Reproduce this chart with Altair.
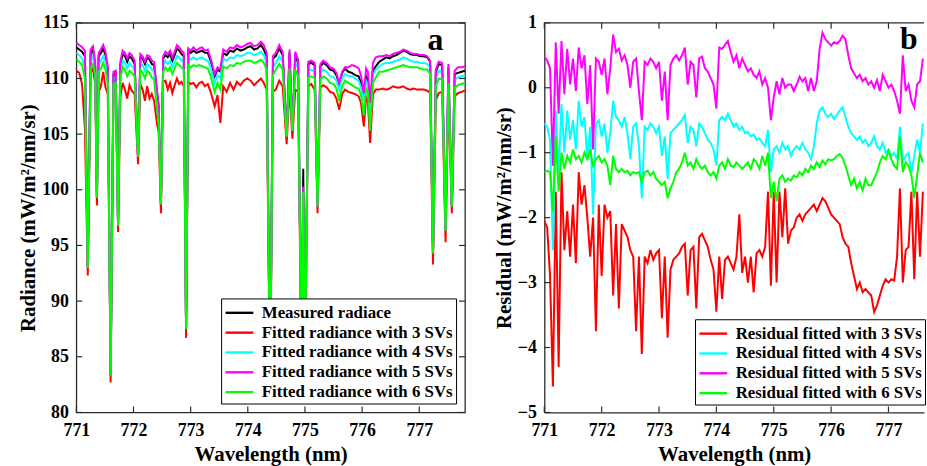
import altair as alt
import pandas as pd

# ---------------- panel a data (radiance) ----------------
wl_a = [771.00, 771.05, 771.10, 771.15, 771.20, 771.25, 771.29, 771.33, 771.36, 771.39,
        771.43, 771.47, 771.51, 771.55, 771.60, 771.65, 771.69, 771.73, 771.77, 771.81,
        771.85, 771.89, 771.93, 771.97, 772.02, 772.08, 772.12, 772.16, 772.20, 772.24,
        772.28, 772.32, 772.36, 772.41, 772.44, 772.48, 772.52, 772.56, 772.60, 772.64,
        772.68, 772.72, 772.76, 772.80, 772.84, 772.88, 772.92, 772.96, 773.00, 773.05,
        773.10, 773.15, 773.20, 773.25, 773.30, 773.35, 773.42, 773.47, 773.52, 773.57,
        773.63, 773.69, 773.75, 773.81, 773.87, 773.93, 773.99, 774.05, 774.11, 774.17,
        774.23, 774.28, 774.33, 774.39, 774.44, 774.49, 774.55, 774.61, 774.68, 774.73,
        774.78, 774.83, 774.88, 774.94, 774.97, 775.00, 775.06, 775.11, 775.17, 775.22,
        775.27, 775.32, 775.38, 775.44, 775.50, 775.55, 775.60, 775.65, 775.70, 775.76,
        775.82, 775.88, 775.94, 775.98, 776.03, 776.07, 776.10, 776.14, 776.19, 776.24,
        776.30, 776.36, 776.42, 776.48, 776.54, 776.60, 776.66, 776.72, 776.78, 776.84,
        776.90, 776.96, 777.02, 777.08, 777.14, 777.19, 777.24, 777.29, 777.34, 777.40,
        777.46, 777.51, 777.57, 777.62, 777.68, 777.74, 777.80]

meas = [112.8, 112.6, 112.4, 112.0, 93.0, 112.3, 112.6, 111.2, 99.3, 112.0,
        112.3, 112.7, 112.1, 110.8, 83.3, 110.4, 110.5, 96.8, 111.2, 112.2,
        112.0, 111.5, 112.0, 111.8, 111.3, 103.0, 111.9, 111.8, 111.3, 111.9,
        111.7, 111.3, 111.2, 108.8, 107.4, 98.7, 111.8, 112.1, 111.9, 112.2,
        111.6, 112.1, 112.7, 112.5, 112.2, 112.0, 87.5, 112.5, 112.3, 112.5,
        112.3, 112.4, 112.5, 112.3, 112.3, 111.6, 110.2, 110.8, 110.6, 112.3,
        112.1, 112.5, 112.4, 112.7, 112.5, 112.6, 112.8, 112.9, 112.6, 112.7,
        113.0, 112.6, 112.0, 82.0, 111.8, 112.0, 112.7, 112.1, 104.8, 112.3,
        105.3, 112.1, 111.4, 84.0, 101.9, 84.0, 111.3, 111.4, 111.2, 98.5,
        111.1, 111.4, 111.2, 110.8, 110.7, 110.3, 109.5, 110.5, 110.9, 110.6,
        110.5, 110.3, 110.2, 109.6, 108.3, 110.2, 109.9, 107.5, 110.7, 111.1,
        111.5, 111.7, 111.9, 111.8, 112.0, 112.1, 112.3, 112.5, 112.4, 112.2,
        112.1, 112.1, 112.0, 112.0, 111.9, 111.5, 94.3, 110.6, 111.3, 111.2,
        96.3, 111.0, 98.5, 110.4, 110.5, 110.6, 110.7]

fit3 = [110.7, 110.5, 109.5, 105.5, 92.3, 110.5, 110.9, 109.5, 98.6, 108.8,
        109.3, 110.6, 109.2, 108.6, 82.7, 109.0, 109.1, 96.2, 108.4, 109.6,
        109.0, 108.2, 109.4, 108.9, 108.6, 102.3, 109.5, 109.0, 108.0, 109.3,
        108.2, 108.6, 108.0, 106.0, 105.2, 97.9, 109.7, 109.8, 109.0, 109.6,
        108.7, 109.4, 110.0, 109.5, 109.7, 109.3, 86.7, 109.7, 109.5, 109.6,
        109.2, 109.6, 109.7, 109.3, 109.5, 108.8, 107.5, 108.5, 106.0, 109.3,
        108.8, 109.6, 109.0, 109.7, 109.4, 109.8, 110.0, 109.8, 109.4, 109.7,
        110.0, 109.6, 109.0, 81.5, 108.8, 109.0, 109.8, 109.3, 104.1, 109.4,
        104.6, 109.0, 108.8, 83.5, 99.5, 83.5, 109.3, 109.5, 109.0, 97.9,
        109.2, 109.4, 109.2, 108.8, 108.7, 108.2, 107.2, 108.6, 109.0, 108.8,
        108.7, 108.6, 108.4, 107.8, 105.7, 108.3, 108.0, 104.2, 108.6, 109.0,
        109.0, 109.1, 109.0, 109.1, 109.3, 109.2, 109.2, 109.3, 109.1, 109.0,
        109.1, 109.0, 109.0, 109.0, 108.9, 108.7, 93.3, 108.0, 108.7, 108.8,
        95.3, 108.6, 97.9, 108.4, 108.7, 108.8, 108.9]

fit4 = [112.3, 112.1, 111.8, 111.0, 93.0, 111.5, 112.0, 110.8, 99.3, 111.2,
        111.6, 112.0, 111.5, 110.3, 83.3, 110.0, 110.1, 96.8, 110.6, 111.6,
        111.4, 110.9, 111.4, 111.1, 110.8, 103.0, 111.4, 111.2, 110.7, 111.3,
        111.1, 110.8, 110.6, 108.2, 107.0, 98.7, 111.2, 111.6, 111.3, 111.6,
        111.0, 111.5, 112.0, 111.9, 111.6, 111.5, 87.5, 111.9, 111.7, 111.9,
        111.7, 111.8, 111.9, 111.7, 111.6, 111.0, 109.6, 110.3, 110.0, 111.8,
        111.6, 111.9, 111.8, 112.1, 112.0, 112.1, 112.3, 112.3, 112.1, 112.2,
        112.4, 112.1, 111.4, 82.0, 111.0, 111.4, 112.0, 111.5, 104.8, 111.6,
        105.3, 111.5, 110.9, 84.0, 100.0, 84.0, 110.7, 110.8, 110.6, 98.5,
        110.5, 110.8, 110.6, 110.2, 110.1, 109.8, 109.0, 110.0, 110.4, 110.2,
        110.2, 110.0, 109.8, 109.2, 108.0, 109.8, 109.5, 107.0, 110.3, 110.8,
        111.1, 111.3, 111.4, 111.4, 111.5, 111.6, 111.7, 111.9, 111.8, 111.6,
        111.5, 111.5, 111.4, 111.4, 111.3, 111.0, 94.3, 110.0, 110.7, 110.6,
        96.3, 110.3, 98.5, 109.9, 110.1, 110.2, 110.3]

fit5 = [113.2, 113.0, 112.8, 112.5, 93.0, 112.6, 112.9, 111.5, 99.3, 112.3,
        112.6, 113.0, 112.4, 111.0, 83.3, 110.6, 110.7, 96.8, 111.5, 112.5,
        112.3, 111.8, 112.3, 112.1, 111.6, 103.0, 112.2, 112.0, 111.5, 112.1,
        112.0, 111.6, 111.5, 109.0, 107.6, 98.7, 112.0, 112.4, 112.2, 112.5,
        111.9, 112.4, 113.0, 112.8, 112.5, 112.3, 87.5, 112.7, 112.5, 112.8,
        112.5, 112.7, 112.8, 112.5, 112.6, 111.8, 110.4, 111.0, 110.8, 112.6,
        112.4, 112.8, 112.7, 113.0, 112.8, 112.9, 113.1, 113.2, 112.9, 113.0,
        113.3, 113.0, 112.3, 82.0, 112.0, 112.3, 113.0, 112.4, 104.8, 112.6,
        105.3, 112.4, 111.7, 84.0, 100.3, 84.0, 111.5, 111.6, 111.4, 98.5,
        111.3, 111.6, 111.4, 111.0, 110.9, 110.5, 109.6, 110.6, 111.0, 111.0,
        111.2, 111.1, 110.9, 110.3, 108.7, 110.9, 110.6, 107.8, 111.4, 111.9,
        112.0, 112.0, 112.1, 112.0, 112.2, 112.3, 112.4, 112.6, 112.5, 112.3,
        112.2, 112.2, 112.1, 112.1, 112.0, 111.6, 94.3, 110.8, 111.5, 111.4,
        96.3, 111.3, 98.5, 110.7, 111.0, 111.0, 111.1]

fit6 = [111.7, 111.5, 111.2, 110.0, 93.0, 110.9, 111.3, 110.3, 99.3, 110.6,
        110.9, 111.4, 110.8, 109.6, 83.3, 109.5, 109.6, 96.8, 110.0, 111.0,
        110.8, 110.2, 110.7, 110.5, 110.2, 103.0, 110.8, 110.5, 110.0, 110.7,
        110.5, 110.1, 109.9, 107.3, 106.0, 98.7, 110.6, 111.0, 110.7, 111.0,
        110.4, 110.9, 111.4, 111.2, 111.0, 110.8, 87.5, 111.2, 111.0, 111.2,
        111.1, 111.2, 111.1, 111.0, 110.9, 110.2, 108.8, 109.6, 109.0, 111.1,
        110.9, 111.2, 111.1, 111.4, 111.3, 111.5, 111.6, 111.6, 111.4, 111.5,
        111.7, 111.4, 110.8, 82.0, 110.3, 110.8, 111.3, 110.8, 104.8, 110.9,
        105.3, 110.8, 110.2, 84.0, 99.8, 84.0, 110.1, 110.2, 110.0, 98.5,
        109.9, 110.2, 110.0, 109.6, 109.5, 109.1, 108.0, 109.3, 109.8, 109.6,
        109.4, 109.2, 109.1, 108.5, 106.7, 109.1, 108.8, 105.3, 109.6, 110.1,
        110.6, 110.6, 110.7, 110.8, 110.9, 111.0, 111.1, 111.2, 111.1, 111.0,
        111.0, 111.0, 110.9, 110.8, 110.8, 110.4, 94.3, 109.3, 110.0, 109.9,
        96.3, 109.6, 98.5, 109.2, 109.4, 109.5, 109.6]

# ---------------- panel b data (residuals, sampled every 0.05 nm from 771.00) ----------------
res3 = [-2.05, -2.15, -2.9, -4.6, -1.6, -4.3, -1.3, -2.5, -1.9, -2.6,
        -1.8, -2.7, -1.3, -1.8, -1.5, -2.0, -2.6, -2.0, -3.75, -1.8,
        -2.9, -1.8, -2.0, -1.9, -3.2, -2.1, -3.4, -2.1, -2.2, -2.3,
        -2.5, -2.6, -3.75, -2.6, -4.1, -2.6, -2.7, -2.5, -2.65, -2.55,
        -2.5, -3.55, -2.6, -3.85, -2.8, -2.65, -2.6, -2.55, -2.45, -2.4,
        -3.2, -2.5, -2.45, -3.4, -2.3, -2.25, -2.35, -2.45, -2.65, -2.8,
        -3.45, -2.6, -3.25, -2.65, -2.6, -2.7, -2.8, -2.6, -1.95, -2.85,
        -2.6, -3.0, -2.6, -3.15, -2.55, -2.5, -2.6, -2.45, -1.6, -3.05,
        -1.6, -3.0, -1.6, -2.3, -1.55, -2.4, -2.2, -2.15, -2.0, -1.95,
        -2.05, -1.95, -1.9, -1.85, -1.8, -1.9, -1.8, -1.7, -1.75, -1.85,
        -1.95, -2.0, -2.05, -2.1, -2.3, -2.4, -2.45, -2.7, -2.9, -3.1,
        -3.0, -3.15, -3.1, -3.15, -3.2, -3.45, -3.35, -3.2, -3.05, -2.95,
        -3.0, -2.95, -2.97, -2.6, -1.55, -3.0, -2.5, -2.45, -1.6, -2.95,
        -1.6, -2.6, -1.6]

res4 = [-0.55, -0.6, -0.8, -2.5, -0.35, -1.3, -0.25, -1.0, -0.35, -0.8,
        -0.5, -0.95, -0.2, -0.6, -0.45, -1.1, -0.6, -1.95, -0.55, -0.5,
        -0.75, -0.55, -1.0, -0.7, -0.2, -0.45, -0.5, -0.6, -0.45, -0.7,
        -1.1, -0.6, -0.55, -0.9, -1.7, -0.6, -0.65, -0.55, -0.6, -0.7,
        -0.6, -1.05, -0.75, -1.4, -0.7, -0.65, -0.6, -0.55, -0.5, -0.42,
        -0.85, -0.6, -0.65, -0.9, -0.55, -0.6, -0.7, -0.8, -0.85, -0.95,
        -1.2, -0.5, -0.45, -0.5, -0.4, -0.5, -0.6, -0.55, -0.65, -0.6,
        -0.7, -0.68, -0.75, -0.72, -0.8, -0.78, -0.85, -0.9, -0.65, -1.3,
        -0.95, -0.9, -1.0, -0.85, -0.95, -0.9, -1.05, -0.95, -0.9, -0.95,
        -0.85, -0.95, -1.0, -1.1, -0.9, -0.55, -0.35, -0.3, -0.4, -0.45,
        -0.4, -0.48, -0.42, -0.35, -0.3, -0.45, -0.6, -0.7, -0.75, -0.8,
        -0.75, -0.85, -0.8, -0.9, -0.85, -0.75, -0.9, -0.95, -0.85, -1.0,
        -0.95, -1.05, -1.0, -1.1, -0.6, -1.15, -1.05, -1.0, -1.3, -1.05,
        -0.8, -1.0, -0.55]

res5 = [0.48, 0.42, 0.3, -1.2, 0.7, -0.4, 0.72, -0.1, 0.6, 0.05,
        0.45, -0.05, 0.62, 0.3, 0.5, -0.25, 0.35, -0.95, 0.45, 0.4,
        0.2, 0.45, -0.1, 0.3, 0.82, 0.55, 0.6, 0.42, 0.5, 0.35,
        0.0, 0.4, 0.45, -0.05, -0.5, 0.4, 0.35, 0.45, 0.4, 0.3,
        0.4, -0.2, 0.25, -0.5, 0.35, 0.45, 0.5, 0.42, 0.5, 0.62,
        0.05, 0.4, 0.35, -0.15, 0.45, 0.48, 0.3, 0.25, 0.15, 0.05,
        -0.32, 0.62, 0.6, 0.66, 0.72, 0.55, 0.4, 0.5, 0.3, 0.45,
        0.35, 0.25, 0.3, 0.2, 0.15, 0.25, 0.05, 0.15, 0.0, -0.5,
        -0.15, 0.1, -0.1, 0.15, 0.0, 0.05, 0.05, -0.05, 0.05, 0.17,
        0.1, 0.15, -0.05, 0.15, -0.05, 0.1, 0.6, 0.85, 0.75, 0.7,
        0.65, 0.7, 0.68, 0.72, 0.8, 0.75, 0.5, 0.3, 0.22, 0.15,
        0.2, 0.1, 0.15, 0.05, 0.1, 0.0, 0.12, -0.05, 0.2, 0.1,
        0.0, 0.05, -0.05, -0.2, -0.4, 0.5, -0.05, 0.05, -0.2, -0.3,
        0.05, 0.1, 0.45]

res6 = [-1.3, -1.28, -1.3, -1.9, -0.75, -1.6, -1.0, -1.25, -1.05, -1.15,
        -0.95, -1.1, -1.05, -1.15, -1.0, -1.1, -0.95, -1.2, -1.1, -1.05,
        -1.15, -1.1, -1.2, -1.5, -1.05, -1.25, -1.3, -1.25, -1.3, -1.28,
        -1.35, -1.3, -1.32, -1.3, -1.45, -1.3, -1.28, -1.35, -1.3, -1.4,
        -1.45, -1.5, -1.45, -1.7, -1.55, -1.45, -1.3, -1.25, -1.15, -1.0,
        -1.2, -1.15, -1.25, -1.1, -1.2, -1.25, -1.2, -1.3, -1.35, -1.3,
        -1.4, -1.2, -1.15, -1.25, -1.1, -1.2, -1.22, -1.15, -1.2, -1.25,
        -1.2, -1.15, -1.25, -1.1, -1.15, -1.25, -1.05, -1.2, -1.0, -1.7,
        -1.45, -1.75, -1.4, -1.35, -1.45, -1.4, -1.43, -1.35, -1.38, -1.3,
        -1.35, -1.25, -1.3, -1.2, -1.25, -1.15, -1.22, -1.12, -1.18, -1.1,
        -1.12, -1.1, -1.05, -1.02, -1.08, -1.2, -1.35, -1.5, -1.4, -1.55,
        -1.45, -1.58, -1.4, -1.5, -1.5, -1.4, -1.3, -1.15, -1.05, -1.1,
        -0.97, -1.1, -1.2, -1.25, -0.75, -1.3, -1.15, -1.2, -1.35, -1.7,
        -1.35, -1.0, -1.15]

wl_b = [round(771.0 + 0.05 * i, 2) for i in range(len(res3))]

xticks = [771, 772, 773, 774, 775, 776, 777]
yticks_a = [80, 85, 90, 95, 100, 105, 110, 115]
yticks_b = [-5, -4, -3, -2, -1, 0, 1]

names_a = ["Measured radiace", "Fitted radiance with 3 SVs", "Fitted radiance with 4 SVs",
           "Fitted radiance with 5 SVs", "Fitted radiance with 6 SVs"]
colors_a = ["#000000", "#ff0000", "#00ffff", "#ff00ff", "#00ff00"]
names_b = ["Residual fitted with 3 SVs", "Residual fitted with 4 SVs",
           "Residual fitted with 5 SVs", "Residual fitted with 6 SVs"]
colors_b = ["#ff0000", "#00ffff", "#ff00ff", "#00ff00"]

lens_a = {len(x) for x in [wl_a, meas, fit3, fit4, fit5, fit6]}
lens_b = {len(x) for x in [res3, res4, res5, res6]}
if len(lens_a) != 1 or len(lens_b) != 1:
    raise SystemExit(f"length mismatch a={[len(x) for x in [wl_a, meas, fit3, fit4, fit5, fit6]]} "
                     f"b={[len(x) for x in [res3, res4, res5, res6]]}")

FONT = "Liberation Serif"
FRAME = "#2b2b2b"
W_A, W_B, H = 392, 383, 393
TL = 6
LINE_SYMBOL = "M-1.4,0L1.4,0"


def legend(**pos):
    return alt.Legend(title=None, symbolType=LINE_SYMBOL, symbolSize=400, symbolStrokeWidth=2.4,
                      symbolOffset=4, labelOffset=11, labelFont=FONT, labelFontSize=17,
                      labelFontWeight="bold", labelColor="black", labelLimit=400,
                      strokeColor="black", fillColor="white", padding=3, rowPadding=0, **pos)


def panel(wl, series, names, colors, xscale, yscale, yticks, ytitle, width, label, lab_x, lab_y,
          leg, with_domain=False):
    extra = dict(domain=True, domainColor=FRAME, domainWidth=1.3) if with_domain else {}
    xaxis = alt.Axis(values=xticks, format="d", title="Wavelength (nm)", labelFlush=False,
                     labelPadding=9, titlePadding=4, **extra)
    yaxis = alt.Axis(values=yticks, format="d", title=ytitle, labelFlush=False,
                     labelPadding=8, titlePadding=3, **extra)
    layers = []
    for name, vals in zip(names, series):
        df = pd.DataFrame({"wl": wl, "v": vals, "s": name})
        layers.append(
            alt.Chart(df).mark_line(strokeWidth=2, clip=True).encode(
                x=alt.X("wl:Q", scale=xscale, axis=xaxis),
                y=alt.Y("v:Q", scale=yscale, axis=yaxis),
                color=alt.Color("s:N", scale=alt.Scale(domain=names, range=colors), legend=leg),
            )
        )
    xt = pd.DataFrame({"wl": xticks})
    yt = pd.DataFrame({"v": yticks})
    rule = dict(color=FRAME, strokeWidth=1.2)
    layers.append(alt.Chart(xt).mark_rule(**rule).encode(
        x=alt.X("wl:Q", scale=xscale, axis=xaxis), y=alt.value(H), y2=alt.value(H - TL)))
    layers.append(alt.Chart(xt).mark_rule(**rule).encode(
        x=alt.X("wl:Q", scale=xscale, axis=xaxis), y=alt.value(0), y2=alt.value(TL)))
    layers.append(alt.Chart(yt).mark_rule(**rule).encode(
        y=alt.Y("v:Q", scale=yscale, axis=yaxis), x=alt.value(0), x2=alt.value(TL)))
    if not with_domain:
        layers.append(alt.Chart(yt).mark_rule(**rule).encode(
            y=alt.Y("v:Q", scale=yscale, axis=yaxis), x=alt.value(width), x2=alt.value(width - TL)))
    lab = pd.DataFrame({"wl": [lab_x], "v": [lab_y], "t": [label]})
    layers.append(alt.Chart(lab).mark_text(font=FONT, fontSize=32, fontWeight="bold",
                                           align="right", baseline="alphabetic",
                                           color="black").encode(
        x=alt.X("wl:Q", scale=xscale, axis=xaxis), y=alt.Y("v:Q", scale=yscale, axis=yaxis),
        text="t:N"))
    return layers


xs_a = alt.Scale(domain=[771, 777.8], nice=False, zero=False)
ys_a = alt.Scale(domain=[80, 115], nice=False, zero=False)
xs_b = alt.Scale(domain=[771, 777.62], nice=False, zero=False)
ys_b = alt.Scale(domain=[-5, 1], nice=False, zero=False)

layers_a = panel(wl_a, [meas, fit3, fit4, fit5, fit6], names_a, colors_a, xs_a, ys_a, yticks_a,
                 "Radiance (mW/m²/nm/sr)", W_A, "a", 777.42, 112.6,
                 legend(orient="bottom-right", offset=9))
chart_a = alt.layer(*layers_a).properties(width=W_A, height=H)

layers_b = panel(wl_b, [res3, res4, res5, res6], names_b, colors_b, xs_b, ys_b, yticks_b,
                 "Residual (mW/m²/nm/sr)", W_B, "b", 777.51, 0.59,
                 legend(orient="none", legendX=152, legendY=299), with_domain=True)
top_line = alt.Chart(pd.DataFrame({"t": [0]})).mark_rule(color=FRAME, strokeWidth=1.3).encode(
    x=alt.value(0), x2=alt.value(W_B), y=alt.value(0))
layers_b.append(top_line)
chart_b = alt.layer(*layers_b).properties(
    width=W_B, height=H, view=alt.ViewBackground(stroke="transparent"))

chart = alt.hconcat(chart_a, chart_b, spacing=26).resolve_scale(
    color="independent", x="independent", y="independent"
).properties(
    padding={"left": 17, "top": 11, "right": 0, "bottom": 0}
).configure_view(
    stroke=FRAME, strokeWidth=1.3
).configure_axis(
    grid=False, ticks=False, domain=False, labelFont=FONT, labelFontSize=18,
    labelFontWeight="bold", labelColor="black", titleFont=FONT, titleFontSize=21,
    titleFontWeight="bold", titleColor="black"
)

chart.save("out.html", embed_options={"renderer": "svg", "actions": False})
